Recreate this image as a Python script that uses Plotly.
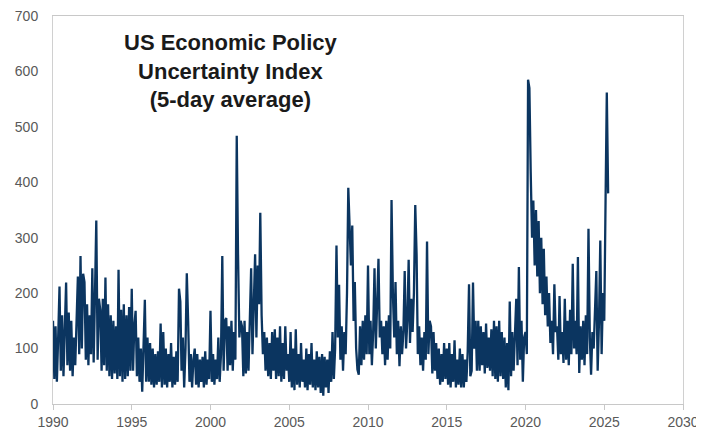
import pandas as pd
import plotly.graph_objects as go

# Monthly readings (alternating highs/lows of the 5-day average band), by year
y1990 = [150, 45, 140, 40, 120, 212, 60, 160, 50, 130, 219, 70]
y1991 = [165, 60, 150, 50, 120, 70, 140, 230, 90, 267, 100, 235]
y1992 = [220, 80, 180, 70, 160, 90, 245, 75, 200, 331, 80, 190]
y1993 = [170, 60, 190, 70, 228, 60, 180, 50, 160, 45, 150, 55]
y1994 = [140, 45, 242, 50, 170, 40, 180, 45, 160, 50, 175, 60]
y1995 = [208, 60, 140, 168, 50, 120, 40, 100, 22, 90, 188, 40]
y1996 = [120, 40, 110, 35, 100, 30, 90, 35, 95, 40, 145, 30]
y1997 = [130, 35, 100, 30, 90, 40, 110, 30, 85, 35, 95, 40]
y1998 = [208, 185, 60, 120, 30, 100, 236, 150, 40, 90, 30, 80]
y1999 = [100, 35, 90, 30, 80, 40, 85, 30, 95, 35, 80, 45]
y2000 = [168, 40, 90, 35, 80, 45, 120, 40, 90, 267, 60, 150]
y2001 = [155, 60, 140, 70, 150, 60, 130, 80, 484, 270, 120, 150]
y2002 = [140, 50, 150, 55, 130, 60, 170, 245, 90, 190, 270, 120]
y2003 = [250, 180, 345, 160, 90, 130, 60, 120, 50, 110, 45, 130]
y2004 = [60, 135, 45, 120, 50, 140, 40, 110, 45, 140, 60, 90]
y2005 = [40, 130, 30, 100, 25, 135, 35, 90, 30, 110, 40, 80]
y2006 = [30, 100, 25, 90, 35, 110, 30, 80, 25, 95, 30, 85]
y2007 = [20, 90, 15, 85, 30, 80, 20, 95, 40, 130, 45, 100]
y2008 = [286, 120, 215, 80, 140, 60, 130, 90, 200, 390, 300, 250]
y2009 = [322, 150, 220, 100, 62, 53, 140, 70, 150, 80, 160, 90]
y2010 = [250, 90, 150, 70, 130, 245, 100, 180, 262, 120, 150, 90]
y2011 = [140, 70, 150, 80, 160, 100, 368, 200, 120, 220, 90, 150]
y2012 = [68, 140, 90, 130, 240, 100, 150, 260, 110, 190, 130, 200]
y2013 = [359, 270, 90, 140, 70, 120, 60, 130, 80, 293, 90, 150]
y2014 = [140, 55, 130, 60, 110, 45, 100, 35, 90, 40, 110, 45]
y2015 = [100, 35, 110, 30, 90, 40, 115, 30, 80, 35, 100, 30]
y2016 = [90, 30, 80, 40, 95, 216, 50, 60, 219, 100, 150, 60]
y2017 = [150, 60, 140, 70, 130, 55, 145, 65, 120, 60, 135, 50]
y2018 = [150, 45, 140, 40, 150, 50, 130, 45, 120, 30, 110, 25]
y2019 = [185, 50, 130, 60, 120, 190, 70, 247, 80, 150, 40, 120]
y2020 = [130, 90, 585, 570, 419, 300, 367, 250, 350, 230, 330, 200]
y2021 = [300, 180, 280, 160, 230, 140, 200, 110, 150, 90, 216, 130]
y2022 = [140, 80, 195, 90, 130, 74, 190, 80, 150, 70, 170, 90]
y2023 = [253, 100, 150, 90, 265, 56, 140, 80, 150, 70, 160, 90]
y2024 = [316, 120, 53, 130, 100, 160, 240, 60, 150, 295, 90, 200]
y2025 = [150, 374, 562, 380]

values = (y1990 + y1991 + y1992 + y1993 + y1994 + y1995 + y1996 + y1997 + y1998
          + y1999 + y2000 + y2001 + y2002 + y2003 + y2004 + y2005 + y2006 + y2007
          + y2008 + y2009 + y2010 + y2011 + y2012 + y2013 + y2014 + y2015 + y2016
          + y2017 + y2018 + y2019 + y2020 + y2021 + y2022 + y2023 + y2024 + y2025)
dates = pd.date_range("1990-01-01", periods=len(values), freq="MS")

x_ticks = ["1990", "1995", "2000", "2005", "2010", "2015", "2020", "2025", "2030"]
y_ticks = [0, 100, 200, 300, 400, 500, 600, 700]

fig = go.Figure()
fig.add_trace(go.Scatter(x=dates, y=values, mode="lines",
                         line=dict(color="#0b3560", width=2.3),
                         hoverinfo="skip"))

axis_font = dict(family="Liberation Sans, Arial, sans-serif", size=14, color="#595959")
# margins compensate for the page's default 8px body offset
fig.update_layout(
    width=704, height=436,
    margin=dict(l=45, r=29, t=8, b=40),
    paper_bgcolor="white", plot_bgcolor="white",
    showlegend=False,
    xaxis=dict(
        type="date",
        range=["1990-01-01", "2030-01-01"],
        tickvals=[pd.Timestamp(t + "-01-01") for t in x_ticks],
        ticktext=x_ticks,
        showgrid=False, zeroline=False, automargin=False,
        ticklabeloverflow="allow",
        showline=True, linecolor="#c8c8c8", linewidth=1, mirror=True,
        ticks="outside", ticklen=5, tickcolor="#c8c8c8",
        tickfont=axis_font,
    ),
    yaxis=dict(
        range=[0, 700],
        tickvals=y_ticks,
        showgrid=False, zeroline=False, automargin=False,
        ticklabeloverflow="allow",
        showline=True, linecolor="#d0d0d0", linewidth=1, mirror=True,
        ticks="", ticklabelstandoff=11,
        tickfont=axis_font,
    ),
    annotations=[dict(
        text="<b>US Economic Policy<br>Uncertainty Index<br>(5-day average)</b>",
        xref="paper", yref="paper", x=0.281, y=0.97,
        xanchor="center", yanchor="top", showarrow=False, align="center",
        font=dict(family="Liberation Sans, Arial, sans-serif", size=22, color="#1a1a1a"),
    )],
)

fig.write_html("out.html")
